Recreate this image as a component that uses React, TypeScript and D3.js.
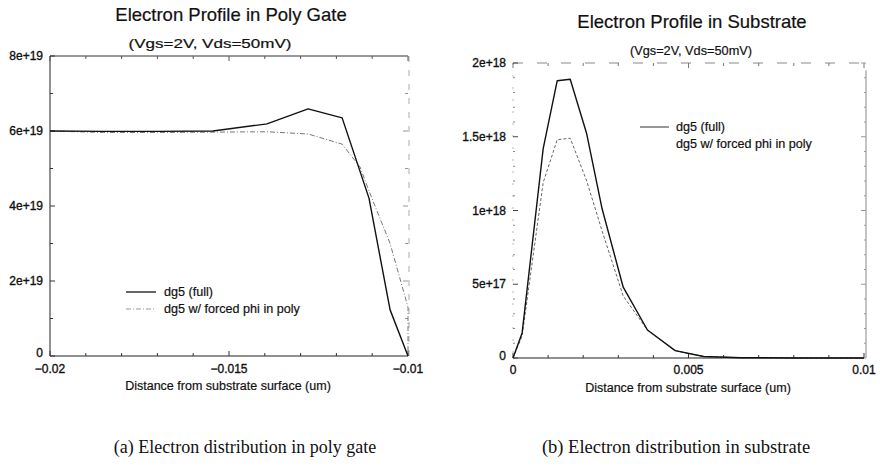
import React from "react";
import * as d3 from "d3";

// ---- Left panel: Electron profile in poly gate ----
const polyFullX = [-0.02, -0.0185, -0.017, -0.01545, -0.01394, -0.01279, -0.01184, -0.01109, -0.0105, -0.01];
const polyFullY = [6.0e19, 5.99e19, 5.99e19, 6.0e19, 6.19e19, 6.59e19, 6.35e19, 4.21e19, 1.23e19, 0];
const polyForcedX = [-0.02, -0.0185, -0.017, -0.01545, -0.01394, -0.01279, -0.01184, -0.01134, -0.01109, -0.0105, -0.01, -0.01];
const polyForcedY = [6.0e19, 5.96e19, 5.96e19, 5.97e19, 5.98e19, 5.92e19, 5.65e19, 5.04e19, 4.4e19, 3.0e19, 1.3e19, 0];
const polyXTickLabels = ["-0.02", "-0.015", "-0.01"];
const polyYTickLabels = ["0", "2e+19", "4e+19", "6e+19", "8e+19"];

// ---- Right panel: Electron profile in substrate ----
const subX = [0, 0.00026, 0.00086, 0.00126, 0.00163, 0.0021, 0.00254, 0.00314, 0.00383, 0.00462, 0.00543, 0.0065, 0.008, 0.01];
const subFullY = [0, 0.17e18, 1.42e18, 1.88e18, 1.89e18, 1.52e18, 1.01e18, 0.48e18, 0.19e18, 0.05e18, 0.01e18, 0.002e18, 0.0005e18, 0];
const subForcedY = [0, 0.15e18, 1.19e18, 1.48e18, 1.49e18, 1.2e18, 0.86e18, 0.42e18, 0.19e18, 0.05e18, 0.01e18, 0.002e18, 0.0005e18, 0];
const subXTickLabels = ["0", "0.005", "0.01"];
const subYTickLabels = ["0", "5e+17", "1e+18", "1.5e+18", "2e+18"];

const seriesNames = ["dg5 (full)", "dg5 w/ forced phi in poly"];
const titles = ["Electron Profile in Poly Gate", "Electron Profile in Substrate"];
const subtitle = "(Vgs=2V, Vds=50mV)";
const xAxisLabel = "Distance from substrate surface (um)";
const captions = ["(a) Electron distribution in poly gate", "(b) Electron distribution in substrate"];

const SANS = "'Liberation Sans', Arial, Helvetica, sans-serif";
const SERIF = "'Liberation Serif', 'Times New Roman', serif";

export default function App() {
  const lx = d3.scaleLinear().domain([-0.02, -0.01]).range([50, 408]);
  const ly = d3.scaleLinear().domain([0, 8e19]).range([356, 56]);
  const rx = d3.scaleLinear().domain([0, 0.01]).range([513, 864]);
  const ry = d3.scaleLinear().domain([0, 2e18]).range([358, 63]);

  const lineL = d3.line<[number, number]>().x((d) => lx(d[0])).y((d) => ly(d[1]));
  const lineR = d3.line<[number, number]>().x((d) => rx(d[0])).y((d) => ry(d[1]));

  const polyFull = polyFullX.map((x, i) => [x, polyFullY[i]] as [number, number]);
  const polyForced = polyForcedX.map((x, i) => [x, polyForcedY[i]] as [number, number]);
  const subFull = subX.map((x, i) => [x, subFullY[i]] as [number, number]);
  const subForced = subX.map((x, i) => [x, subForcedY[i]] as [number, number]);

  const lxMinor = d3.range(0, 11).map((i) => -0.02 + i * 0.001);
  const lyMinor = d3.range(0, 9).map((i) => i * 1e19);
  const rxMinor = d3.range(0, 11).map((i) => i * 0.001);
  const ryMinor = d3.range(0, 21).map((i) => i * 1e17);

  const lxMajor = [-0.02, -0.015, -0.01];
  const lyMajor = [0, 2e19, 4e19, 6e19, 8e19];
  const rxMajor = [0, 0.005, 0.01];
  const ryMajor = [0, 5e17, 1e18, 1.5e18, 2e18];

  const tickFont = { fontFamily: SANS, fontSize: 12, fill: "#111", stroke: "#111", strokeWidth: 0.35 };
  const textFont = { fontFamily: SANS, fill: "#111", stroke: "#111", strokeWidth: 0.2 };

  return (
    <svg width={880} height={468} style={{ position: "absolute", left: 0, top: 0, background: "#fff" }}>
      <rect x={0} y={0} width={880} height={468} fill="#fff" />

      {/* ===== LEFT PANEL ===== */}
      <text x={231} y={21} textAnchor="middle" fontSize={18.5} {...textFont}>{titles[0]}</text>
      <text x={210} y={48} textAnchor="middle" fontSize={13} {...textFont} textLength={163} lengthAdjust="spacingAndGlyphs">{subtitle}</text>

      <line x1={lx(-0.02)} x2={lx(-0.02)} y1={ly(8e19)} y2={ly(0)} stroke="#222" strokeWidth={1} />
      <line x1={lx(-0.02)} x2={lx(-0.01)} y1={ly(0)} y2={ly(0)} stroke="#222" strokeWidth={1.2} />
      <line x1={lx(-0.02)} x2={lx(-0.01)} y1={ly(8e19)} y2={ly(8e19)} stroke="#333" strokeWidth={1} />
      <line x1={lx(-0.01) + 1} x2={lx(-0.01) + 1} y1={ly(8e19)} y2={ly(0)} stroke="#aaa" strokeWidth={1} strokeDasharray="6,8" />

      {lxMinor.map((v, i) => {
        const major = lxMajor.some((m) => Math.abs(m - v) < 1e-9);
        return (
          <g key={"lxt" + i}>
            <line x1={lx(v)} x2={lx(v)} y1={ly(0)} y2={ly(0) - (major ? 5 : 3)} stroke="#333" />
            <line x1={lx(v)} x2={lx(v)} y1={ly(8e19)} y2={ly(8e19) + (major ? 5 : 3)} stroke="#555" />
          </g>
        );
      })}
      {lyMinor.map((v, i) => {
        const major = lyMajor.some((m) => Math.abs(m - v) < 1);
        return (
          <g key={"lyt" + i}>
            <line x1={lx(-0.02)} x2={lx(-0.02) + (major ? 5 : 3)} y1={ly(v)} y2={ly(v)} stroke="#333" />
            <line x1={lx(-0.01)} x2={lx(-0.01) - (major ? 5 : 3)} y1={ly(v)} y2={ly(v)} stroke="#999" />
          </g>
        );
      })}
      {lxMajor.map((v, i) => (
        <text key={"lxl" + i} x={lx(v)} y={373} textAnchor="middle" {...tickFont}>
          {polyXTickLabels[i].replace("-", "\u2212")}
        </text>
      ))}
      {lyMajor.map((v, i) => (
        <text key={"lyl" + i} x={43} y={ly(v) - (v === 0 ? 3 : 0)} dy="0.35em" textAnchor="end" {...tickFont}>
          {polyYTickLabels[i]}
        </text>
      ))}
      <text x={228} y={390} textAnchor="middle" fontSize={12.5} {...textFont}>{xAxisLabel}</text>

      <path d={lineL(polyForced) || ""} fill="none" stroke="#777" strokeWidth={1} strokeDasharray="5,2,1,2" />
      <path d={lineL(polyFull) || ""} fill="none" stroke="#111" strokeWidth={1.4} strokeLinejoin="round" />

      <line x1={126} x2={156} y1={292} y2={292} stroke="#111" strokeWidth={1.3} />
      <text x={164} y={292} dy="0.35em" fontSize={12.6} {...textFont}>{seriesNames[0]}</text>
      <line x1={126} x2={156} y1={309} y2={309} stroke="#999" strokeWidth={1} strokeDasharray="5,2,1,2" />
      <text x={164} y={309} dy="0.35em" fontSize={12.6} {...textFont}>{seriesNames[1]}</text>

      {/* ===== RIGHT PANEL ===== */}
      <text x={692} y={28} textAnchor="middle" fontSize={18.5} {...textFont}>{titles[1]}</text>
      <text x={691} y={55} textAnchor="middle" fontSize={12.5} {...textFont} textLength={122} lengthAdjust="spacingAndGlyphs">{subtitle}</text>

      <line x1={rx(0)} x2={rx(0)} y1={ry(2e18)} y2={ry(0)} stroke="#bbb" strokeWidth={1} strokeDasharray="2,10" />
      <line x1={rx(0)} x2={rx(0.01)} y1={ry(0)} y2={ry(0)} stroke="#222" strokeWidth={1.2} />
      <line x1={rx(0)} x2={rx(0.01)} y1={ry(2e18)} y2={ry(2e18)} stroke="#888" strokeWidth={1} strokeDasharray="10,14" />
      <line x1={rx(0.01) + 2} x2={rx(0.01) + 2} y1={ry(1.95e18)} y2={ry(0)} stroke="#888" strokeWidth={1} />

      {rxMinor.map((v, i) => {
        const major = rxMajor.some((m) => Math.abs(m - v) < 1e-9);
        return (
          <g key={"rxt" + i}>
            <line x1={rx(v)} x2={rx(v)} y1={ry(0)} y2={ry(0) - (major ? 5 : 3)} stroke="#333" />
            <line x1={rx(v)} x2={rx(v)} y1={ry(2e18)} y2={ry(2e18) + (major ? 5 : 3)} stroke="#777" />
          </g>
        );
      })}
      {ryMinor.map((v, i) => {
        const major = ryMajor.some((m) => Math.abs(m - v) < 1);
        return (
          <g key={"ryt" + i}>
            <line x1={rx(0)} x2={rx(0) + (major ? 5 : 2)} y1={ry(v)} y2={ry(v)} stroke={major ? "#444" : "#888"} />
            <line x1={rx(0.01) + 2} x2={rx(0.01) + 2 - (major ? 5 : 2)} y1={ry(v)} y2={ry(v)} stroke="#999" />
          </g>
        );
      })}
      {rxMajor.map((v, i) => (
        <text key={"rxl" + i} x={rx(v)} y={374} textAnchor="middle" {...tickFont}>
          {subXTickLabels[i]}
        </text>
      ))}
      {ryMajor.map((v, i) => (
        <text key={"ryl" + i} x={506} y={ry(v) - (v === 0 ? 2 : 0)} dy="0.35em" textAnchor="end" {...tickFont}>
          {subYTickLabels[i]}
        </text>
      ))}
      <text x={688} y={392} textAnchor="middle" fontSize={12.5} {...textFont}>{xAxisLabel}</text>

      <path d={lineR(subForced) || ""} fill="none" stroke="#666" strokeWidth={1} strokeDasharray="3,2" />
      <path d={lineR(subFull) || ""} fill="none" stroke="#111" strokeWidth={1.4} strokeLinejoin="round" />

      <line x1={640} x2={669} y1={127} y2={127} stroke="#333" strokeWidth={1} />
      <text x={676} y={127} dy="0.35em" fontSize={12.6} {...textFont}>{seriesNames[0]}</text>
      <text x={676} y={144} dy="0.35em" fontSize={12.6} {...textFont}>{seriesNames[1]}</text>

      <text x={245} y={453} textAnchor="middle" fontFamily={SERIF} fontSize={18} fill="#111">{captions[0]}</text>
      <text x={676} y={453} textAnchor="middle" fontFamily={SERIF} fontSize={18.5} fill="#111">{captions[1]}</text>
    </svg>
  );
}
